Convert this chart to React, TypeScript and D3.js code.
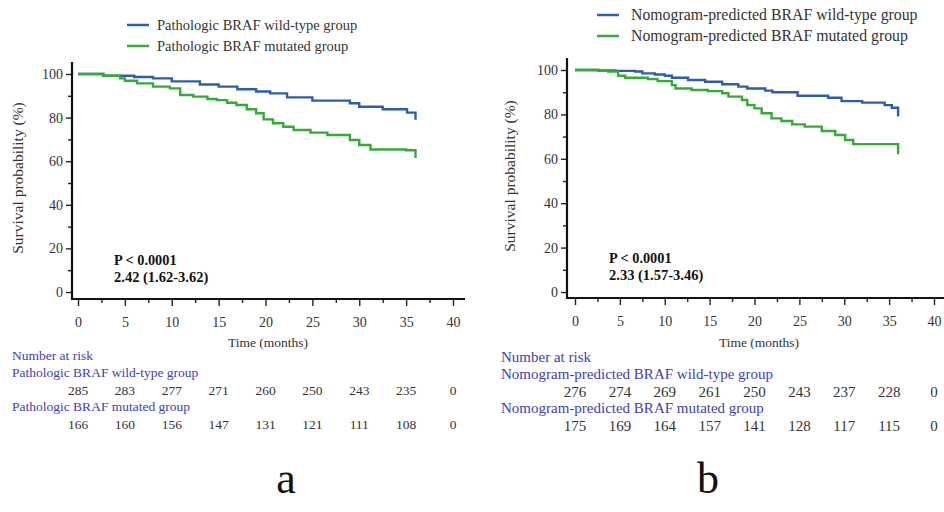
import * as d3 from 'd3';
import React, { useRef, useEffect } from 'react';

// months at which the number at risk is shown (also x ticks)
const riskTimes = [0, 5, 10, 15, 20, 25, 30, 35, 40];
const yMajor = [0, 20, 40, 60, 80, 100];
const yMinor = [10, 30, 50, 70, 90];
const xMinor = [2.5, 7.5, 12.5, 17.5, 22.5, 27.5, 32.5, 37.5];

// panel a - pathologic groups
const aWildTime = [0, 2.7, 6, 8, 10, 13, 15, 17, 19, 20.5, 22.3, 25, 29, 30, 32.5, 35.1, 36];
const aWildSurv = [100, 99.2, 98.6, 98, 96.6, 95.2, 94.2, 93, 92, 91.1, 89.3, 87.8, 86.6, 85, 83.8, 82.3, 79];
const aMutTime = [0, 2.7, 4.5, 5, 6.3, 8, 9.8, 10.9, 12.3, 13.8, 14.8, 15.9, 16.9, 18, 19, 19.8, 20.8, 21.9, 23, 24.8, 26.6, 29, 30, 31.2, 35, 36];
const aMutSurv = [100, 99.2, 98, 96.9, 95.7, 94.2, 93.4, 90.4, 89.6, 88.5, 88, 86.8, 85.8, 83.8, 82, 79.2, 77.4, 75.8, 74.3, 73.1, 72, 69.7, 67.4, 65.4, 65, 61.5];
const aWildRisk = [285, 283, 277, 271, 260, 250, 243, 235, 0];
const aMutRisk = [166, 160, 156, 147, 131, 121, 111, 108, 0];

// panel b - nomogram-predicted groups
const bWildTime = [0, 2.6, 4.5, 6.7, 7.5, 8.9, 10, 10.8, 12.6, 14.5, 16.4, 18.2, 19.2, 21.2, 22, 24.8, 28.2, 29.7, 32, 34.5, 35.3, 36];
const bWildSurv = [100, 99.8, 99.6, 99.3, 98.5, 98, 97.4, 96.5, 95.5, 94.7, 93.6, 92.5, 91.7, 90.7, 90, 88.4, 87.5, 86, 85.3, 84.2, 83, 79];
const bMutTime = [0, 2.6, 3.7, 4.8, 5.6, 8.1, 9.2, 10.8, 11.2, 13, 14.8, 16.4, 17.1, 18.6, 19.2, 20, 20.8, 21.9, 23, 24.2, 25.6, 27.5, 29, 30.1, 31, 36];
const bMutSurv = [100, 99.7, 99.3, 97.4, 96.5, 95.9, 95, 93.2, 91.7, 91, 90.5, 89.5, 88, 86.5, 84.2, 82.7, 80.5, 78.2, 77, 75.5, 74.5, 72.5, 70.7, 68.5, 66.6, 62];
const bWildRisk = [276, 274, 269, 261, 250, 243, 237, 228, 0];
const bMutRisk = [175, 169, 164, 157, 141, 128, 117, 115, 0];

const BLUE = '#2f5ea6';
const GREEN = '#36a936';
const RISK = '#4242a8';
const FONT = '"Liberation Serif", "Times New Roman", serif';

const panels = [
  {
    tag: 'a', tagX: 286,
    x0: 78, x40: 453, y0: 292, y100: 74, yAxisX: 72, yAxisTop: 62, xAxisY: 299, xAxisEnd: 465,
    legendX: 127, legendY: 25, legendFont: 14.5, legendGap: 30,
    wildLabel: 'Pathologic BRAF wild-type group', mutLabel: 'Pathologic BRAF mutated group',
    wildTime: aWildTime, wildSurv: aWildSurv, mutTime: aMutTime, mutSurv: aMutSurv,
    p: 'P < 0.0001', hr: '2.42 (1.62-3.62)', pX: 114, pY: 265,
    riskX: 12, riskY: 360, riskFont: 13.5, wildRisk: aWildRisk, mutRisk: aMutRisk, ylabX: 18, ylabY: 178,
    timeX: 268,
  },
  {
    tag: 'b', tagX: 708,
    x0: 575, x40: 934, y0: 292, y100: 70, yAxisX: 567, yAxisTop: 58, xAxisY: 298, xAxisEnd: 944,
    legendX: 597, legendY: 15, legendFont: 15.8, legendGap: 34,
    wildLabel: 'Nomogram-predicted BRAF wild-type group', mutLabel: 'Nomogram-predicted BRAF mutated group',
    wildTime: bWildTime, wildSurv: bWildSurv, mutTime: bMutTime, mutSurv: bMutSurv,
    p: 'P < 0.0001', hr: '2.33 (1.57-3.46)', pX: 609, pY: 263,
    riskX: 501, riskY: 362, riskFont: 15, wildRisk: bWildRisk, mutRisk: bMutRisk, ylabX: 510, ylabY: 176,
    timeX: 759,
  },
];

function drawPanel(svg, c) {
  const g = svg.append('g');
  const x = d3.scaleLinear().domain([0, 40]).range([c.x0, c.x40]);
  const y = d3.scaleLinear().domain([0, 100]).range([c.y0, c.y100]);

  // legend
  [[c.wildLabel, BLUE], [c.mutLabel, GREEN]].forEach(([lab, col], i) => {
    const ly = c.legendY + i * 21;
    g.append('line').attr('x1', c.legendX).attr('x2', c.legendX + 22)
      .attr('y1', ly).attr('y2', ly).attr('stroke', col).attr('stroke-width', 2.5);
    g.append('text').attr('x', c.legendX + c.legendGap).attr('y', ly + 5)
      .attr('font-size', c.legendFont).attr('fill', '#333').text(lab);
  });

  // axes
  const yAx = g.append('g').attr('transform', `translate(${c.yAxisX},0)`);
  yAx.call(d3.axisLeft(y).tickValues(yMajor).tickSize(6).tickPadding(3));
  yAx.call(g2 => g2.append('g').call(d3.axisLeft(y).tickValues(yMinor).tickSize(4).tickFormat(() => '')));
  const xAx = g.append('g').attr('transform', `translate(0,${c.xAxisY})`);
  xAx.call(d3.axisBottom(x).tickValues(riskTimes).tickSize(7).tickPadding(11));
  xAx.call(g2 => g2.append('g').call(d3.axisBottom(x).tickValues(xMinor).tickSize(4).tickFormat(() => '')));
  g.selectAll('.domain').remove();
  g.selectAll('.tick line').attr('stroke', '#222').attr('stroke-width', 1.4);
  g.selectAll('.tick text').attr('font-family', FONT).attr('font-size', 14).attr('fill', '#333');

  g.append('line').attr('x1', c.yAxisX).attr('x2', c.yAxisX)
    .attr('y1', c.yAxisTop).attr('y2', c.xAxisY + 1).attr('stroke', '#111').attr('stroke-width', 2.2);
  g.append('line').attr('x1', c.yAxisX - 1).attr('x2', c.xAxisEnd)
    .attr('y1', c.xAxisY).attr('y2', c.xAxisY).attr('stroke', '#111').attr('stroke-width', 2.2);

  g.append('text').attr('transform', `translate(${c.ylabX},${c.ylabY}) rotate(-90)`)
    .attr('text-anchor', 'middle').attr('dy', '0.35em').attr('font-size', 15.5).attr('fill', '#333')
    .text('Survival probability (%)');
  g.append('text').attr('x', c.timeX).attr('y', 347).attr('text-anchor', 'middle')
    .attr('font-size', 13.5).attr('fill', '#333').text('Time (months)');

  // curves
  const line = d3.line().curve(d3.curveStepAfter).x(d => x(d[0])).y(d => y(d[1]));
  [[c.wildTime, c.wildSurv, BLUE], [c.mutTime, c.mutSurv, GREEN]].forEach(([ts, ss, col]) => {
    g.append('path').datum(ts.map((t, i) => [t, ss[i]]))
      .attr('d', line).attr('fill', 'none').attr('stroke', col).attr('stroke-width', 2.4);
  });

  // stats
  g.append('text').attr('x', c.pX).attr('y', c.pY).attr('font-weight', 'bold')
    .attr('font-size', 14.3).attr('fill', '#111').text(c.p);
  g.append('text').attr('x', c.pX).attr('y', c.pY + 17).attr('font-weight', 'bold')
    .attr('font-size', 14.5).attr('fill', '#111').text(c.hr);

  // number at risk table
  const rows = [
    ['Number at risk', null],
    [c.wildLabel, c.wildRisk],
    [c.mutLabel, c.mutRisk],
  ];
  rows.forEach(([lab, vals], i) => {
    const ly = c.riskY + (i === 0 ? 0 : i === 1 ? 17 : 51);
    g.append('text').attr('x', c.riskX).attr('y', ly).attr('font-size', c.riskFont)
      .attr('fill', RISK).text(lab);
    if (vals) {
      g.append('g').selectAll('text').data(vals).enter().append('text')
        .attr('x', (d, j) => x(riskTimes[j])).attr('y', ly + 18)
        .attr('text-anchor', 'middle').attr('font-size', c.riskFont).attr('fill', '#333')
        .text(d => d);
    }
  });

  g.append('text').attr('x', c.tagX).attr('y', 493).attr('text-anchor', 'middle')
    .attr('font-size', 44).attr('fill', '#111').text(c.tag);
}

export default function App() {
  const ref = useRef(null);

  useEffect(() => {
    const svg = d3.select(ref.current);
    svg.selectAll('*').remove();
    panels.forEach(p => drawPanel(svg, p));
  }, []);

  return (
    <div style={{ position: 'absolute', left: 0, top: 0 }}>
      <svg ref={ref} width={944} height={512} style={{ display: 'block', background: '#fff', fontFamily: FONT }} />
    </div>
  );
}
